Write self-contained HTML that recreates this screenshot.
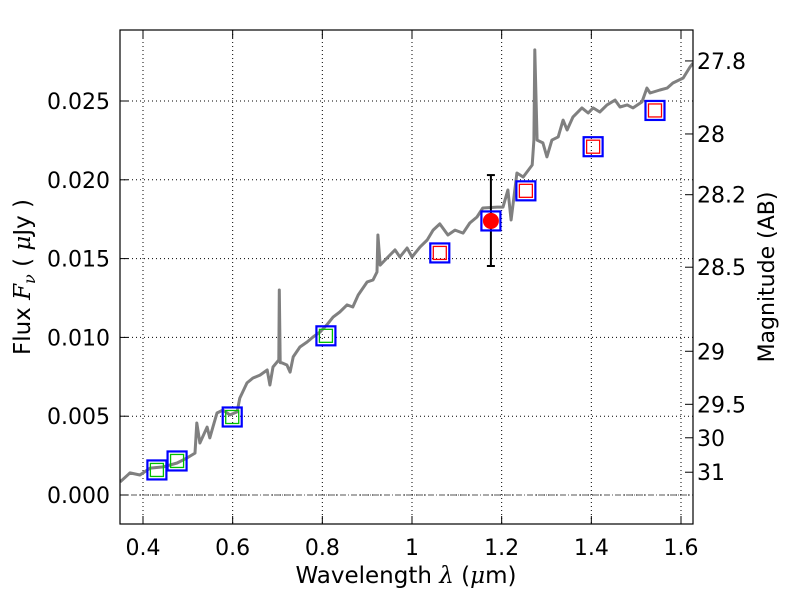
<!DOCTYPE html>
<html><head><meta charset="utf-8"><style>
body{margin:0;background:#fff}
svg{display:block;font-family:"DejaVu Sans","Liberation Sans",sans-serif}
</style></head><body>
<svg id="chart" width="800" height="600" viewBox="0 0 800 600">
<defs><clipPath id="clip"><rect x="120" y="30" width="573" height="494"/></clipPath></defs>
<g id="grid"></g>
<g id="marks" clip-path="url(#clip)"></g>
<rect x="120" y="30" width="573" height="494" fill="none" stroke="#000" stroke-width="1.2"/>
<g id="axes"></g>
<text x="406" y="583" font-size="23" text-anchor="middle">Wavelength  <tspan font-family="DejaVu Serif" font-style="italic">λ</tspan> (<tspan font-family="DejaVu Serif" font-style="italic">μ</tspan>m)</text>
<text transform="translate(30,277) rotate(-90)" font-size="23" text-anchor="middle">Flux  <tspan font-family="DejaVu Serif" font-style="italic">F<tspan font-size="16" dy="5">ν</tspan></tspan><tspan dy="-5">  ( </tspan><tspan font-family="DejaVu Serif" font-style="italic">μ</tspan>Jy )</text>
<text transform="translate(774,277) rotate(-90)" font-size="22" text-anchor="middle">Magnitude (AB)</text>
</svg>
<script>
const specLam=[0.349,0.371,0.393,0.416,0.445,0.476,0.498,0.516,0.520,0.527,0.543,0.549,0.556,0.565,0.578,0.594,0.610,0.616,0.632,0.645,0.661,0.677,0.683,0.690,0.703,0.704,0.706,0.710,0.721,0.728,0.735,0.750,0.766,0.779,0.795,0.810,0.824,0.839,0.855,0.868,0.880,0.900,0.913,0.922,0.924,0.929,0.940,0.962,0.973,0.989,1.000,1.018,1.034,1.047,1.062,1.080,1.096,1.114,1.129,1.145,1.158,1.190,1.203,1.214,1.221,1.234,1.248,1.268,1.272,1.274,1.279,1.292,1.301,1.312,1.326,1.337,1.346,1.359,1.379,1.393,1.404,1.419,1.435,1.453,1.464,1.480,1.493,1.513,1.524,1.531,1.553,1.569,1.582,1.605,1.620,1.627];
const specFlux=[0.00083,0.00140,0.00127,0.00171,0.00178,0.00203,0.00235,0.00266,0.00457,0.00330,0.00431,0.00362,0.00431,0.00520,0.00539,0.00508,0.00527,0.00615,0.00711,0.00742,0.00761,0.00793,0.00698,0.00812,0.00857,0.01301,0.00840,0.00838,0.00825,0.00780,0.00876,0.00939,0.00971,0.01002,0.01034,0.01079,0.01129,0.01161,0.01206,0.01193,0.01269,0.01352,0.01364,0.01415,0.01650,0.01459,0.01491,0.01555,0.01510,0.01567,0.01510,0.01574,0.01618,0.01681,0.01720,0.01650,0.01681,0.01662,0.01726,0.01764,0.01821,0.01827,0.01827,0.01935,0.01745,0.02043,0.02018,0.02094,0.02252,0.02824,0.02252,0.02234,0.02145,0.02252,0.02272,0.02379,0.02316,0.02398,0.02456,0.02424,0.02456,0.02430,0.02475,0.02506,0.02462,0.02475,0.02456,0.02494,0.02582,0.02551,0.02570,0.02582,0.02614,0.02646,0.02716,0.02741];
const photLam=[0.431,0.476,0.599,0.808,1.062,1.254,1.404,1.542];
const photFlux=[0.00159,0.00216,0.00495,0.0101,0.01536,0.0193,0.0221,0.0244];
const photInner=["green","green","green","green","red","red","red","red"];
const detLam=[1.176];
const detFlux=[0.01739];
const detLo=[0.01453];
const detHi=[0.0203];
const xTicks=[0.4,0.6,0.8,1.0,1.2,1.4,1.6];
const xTickLabels=["0.4","0.6","0.8","1","1.2","1.4","1.6"];
const yTicks=[0,0.005,0.010,0.015,0.020,0.025];
const yTickLabels=["0.000","0.005","0.010","0.015","0.020","0.025"];
const magTicks=[27.8,28,28.2,28.5,29,29.5,30,31];
const magTickLabels=["27.8","28","28.2","28.5","29","29.5","30","31"];

const X=v=>143+(v-0.4)*448.33;
const Y=f=>495-f*15760;
const magToFlux=m=>Math.pow(10,-0.4*(m-23.9));
const NS="http://www.w3.org/2000/svg";
function mk(parent,tag,attrs){const e=document.createElementNS(NS,tag);for(const k in attrs)e.setAttribute(k,attrs[k]);parent.appendChild(e);return e;}
const grid=document.getElementById('grid'),marks=document.getElementById('marks'),axes=document.getElementById('axes');

xTicks.forEach((t,i)=>{
  const g=mk(grid,'line',{x1:X(t),x2:X(t),y1:30,y2:524,stroke:'#000','stroke-width':1,'stroke-dasharray':'1,3'});
  
  
  mk(axes,'line',{x1:X(t),x2:X(t),y1:524,y2:516,stroke:'#000'});
  mk(axes,'line',{x1:X(t),x2:X(t),y1:30,y2:38,stroke:'#000'});
  const l=mk(axes,'text',{x:X(t),y:555,'font-size':22,'text-anchor':'middle'});
  l.textContent=xTickLabels[i];
  
  
});
yTicks.forEach((t,i)=>{
  const g=mk(grid,'line',{x1:120,x2:693,y1:Y(t),y2:Y(t),stroke:'#000','stroke-width':1,'stroke-dasharray':'1,3'});
  
  
  mk(axes,'line',{x1:120,x2:128,y1:Y(t),y2:Y(t),stroke:'#000'});
  const l=mk(axes,'text',{x:110,y:Y(t)+8,'font-size':22,'text-anchor':'end'});
  l.textContent=yTickLabels[i];
  
  
});
magTicks.forEach((m,i)=>{
  const y=Y(magToFlux(m));
  mk(axes,'line',{x1:685,x2:693,y1:y,y2:y,stroke:'#000'});
  const l=mk(axes,'text',{x:697,y:y+8,'font-size':22});
  l.textContent=magTickLabels[i];
  
  
});
const zl=mk(marks,'line',{x1:120,x2:693,y1:Y(0),y2:Y(0),stroke:'#555','stroke-width':1,'stroke-dasharray':'6,2,1,2'});



const pts=specLam.map((l,i)=>X(l).toFixed(1)+','+Y(specFlux[i]).toFixed(1)).join(' ');
const sp=mk(marks,'polyline',{points:pts,fill:'none',stroke:'#808080','stroke-width':3,'stroke-linejoin':'round'});



photLam.forEach((l,i)=>{
  const cx=X(l),cy=Y(photFlux[i]);
  const o=mk(marks,'rect',{x:cx-9.5,y:cy-9.5,width:19,height:19,fill:'none',stroke:'#0000ff','stroke-width':2.2});
  
  
  mk(marks,'rect',{x:cx-6.5,y:cy-6.5,width:13,height:13,fill:'none',stroke:photInner[i]==='green'?'#00c000':'#ff0000','stroke-width':1.3});
});
detLam.forEach((l,i)=>{
  const cx=X(l);
  const eb=mk(marks,'g',{});
  
  
  mk(eb,'line',{x1:cx,x2:cx,y1:Y(detLo[i]),y2:Y(detHi[i]),stroke:'#000','stroke-width':2});
  mk(eb,'line',{x1:cx-4,x2:cx+4,y1:Y(detLo[i]),y2:Y(detLo[i]),stroke:'#000','stroke-width':2});
  mk(eb,'line',{x1:cx-4,x2:cx+4,y1:Y(detHi[i]),y2:Y(detHi[i]),stroke:'#000','stroke-width':2});
  mk(marks,'rect',{x:cx-9.5,y:Y(detFlux[i])-9.5,width:19,height:19,fill:'none',stroke:'#0000ff','stroke-width':2.2});
  const c=mk(marks,'circle',{cx:cx,cy:Y(detFlux[i]),r:8,fill:'#ff0000'});
  
  
});
</script>
</body></html>
